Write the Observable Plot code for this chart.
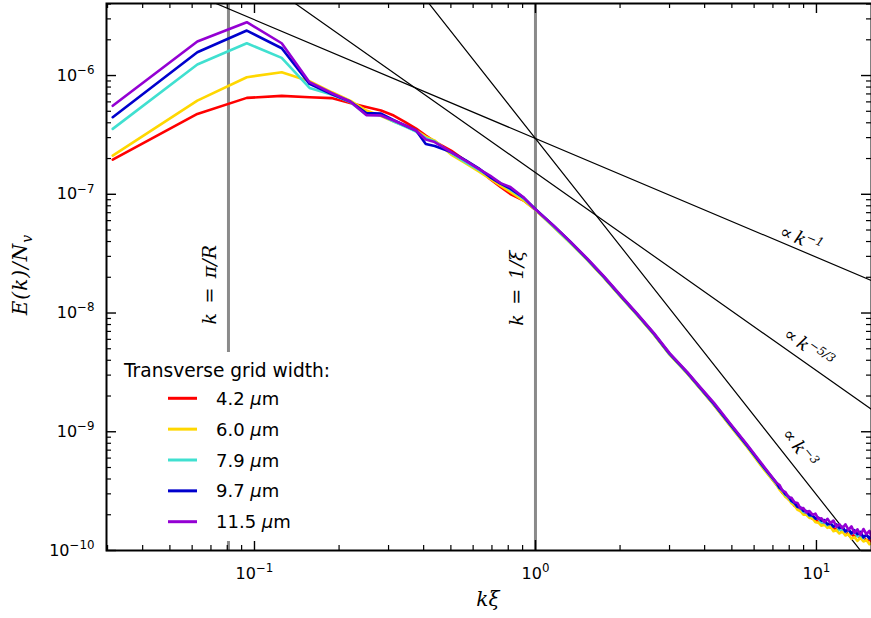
<!DOCTYPE html>
<html><head><meta charset="utf-8">
<script src="https://cdn.jsdelivr.net/npm/d3@7"></script>
<script src="https://cdn.jsdelivr.net/npm/@observablehq/plot@0.6"></script>
<style>html,body{margin:0;padding:0;background:#fff}#chart{position:relative;width:871px;height:618px}</style>
</head><body><div id="chart"></div>
<script>
// ---- data (k·ξ and log10 E(k)/N_v) ----
const kValues = [0.0313, 0.0626, 0.0939, 0.125, 0.157, 0.188, 0.219, 0.250, 0.282, 0.313, 0.344, 0.376, 0.407, 0.438, 0.501, 0.563, 0.626, 0.689, 0.751, 0.814, 0.908, 1.00,
  1.16, 1.33, 1.53, 1.75, 2.00, 2.30, 2.64, 3.00, 3.47, 3.76, 4.31, 4.94, 5.67, 6.49,
  7.206, 7.385, 7.568, 7.757, 7.950, 8.148, 8.350, 8.558, 8.770, 8.989, 9.212, 9.441, 9.677, 9.918, 10.165, 10.418, 10.677,
  10.943, 11.215, 11.494, 11.780, 12.073, 12.374, 12.681, 12.997, 13.321, 13.652, 13.992, 14.340, 14.697, 15.063, 15.437, 15.70];

const log10E_4_2 = [-6.708, -6.323, -6.188, -6.171, -6.183, -6.190, -6.232, -6.265, -6.295, -6.337, -6.392, -6.447, -6.505, -6.556, -6.632, -6.716, -6.788, -6.872, -6.939, -6.998, -7.053, -7.129,
  -7.268, -7.403, -7.550, -7.698, -7.853, -8.014, -8.178, -8.346, -8.506, -8.603, -8.772, -8.949, -9.126, -9.307,
  -9.446, -9.477, -9.515, -9.534, -9.568, -9.587, -9.623, -9.639, -9.668, -9.673, -9.699, -9.704, -9.732, -9.738, -9.762, -9.759, -9.780,
  -9.779, -9.807, -9.803, -9.828, -9.818, -9.842, -9.839, -9.869, -9.859, -9.885, -9.868, -9.895, -9.882, -9.917, -9.905, -9.927];
const log10E_6_0 = [-6.674, -6.211, -6.014, -5.972, -6.048, -6.139, -6.211, -6.295, -6.341, -6.388, -6.425, -6.463, -6.514, -6.548, -6.666, -6.737, -6.805, -6.868, -6.927, -6.981, -7.053, -7.133,
  -7.276, -7.411, -7.554, -7.702, -7.858, -8.018, -8.182, -8.351, -8.511, -8.607, -8.772, -8.953, -9.130, -9.315,
  -9.445, -9.488, -9.514, -9.549, -9.567, -9.601, -9.618, -9.657, -9.667, -9.699, -9.699, -9.725, -9.728, -9.762, -9.765, -9.792, -9.781,
  -9.809, -9.801, -9.837, -9.830, -9.857, -9.841, -9.874, -9.862, -9.901, -9.887, -9.919, -9.894, -9.924, -9.912, -9.947, -9.940];
const log10E_7_9 = [-6.449, -5.907, -5.728, -5.851, -6.104, -6.160, -6.223, -6.329, -6.333, -6.388, -6.430, -6.472, -6.527, -6.556, -6.653, -6.729, -6.792, -6.851, -6.906, -6.960, -7.036, -7.129,
  -7.272, -7.407, -7.550, -7.698, -7.853, -8.014, -8.178, -8.346, -8.506, -8.603, -8.768, -8.944, -9.121, -9.302,
  -9.438, -9.473, -9.497, -9.532, -9.554, -9.588, -9.602, -9.632, -9.643, -9.676, -9.680, -9.709, -9.707, -9.731, -9.732, -9.764, -9.763,
  -9.787, -9.773, -9.799, -9.791, -9.827, -9.818, -9.843, -9.826, -9.858, -9.844, -9.881, -9.866, -9.896, -9.869, -9.898, -9.883];
const log10E_9_7 = [-6.351, -5.804, -5.621, -5.770, -6.070, -6.156, -6.219, -6.316, -6.320, -6.375, -6.421, -6.463, -6.577, -6.594, -6.645, -6.712, -6.779, -6.855, -6.910, -6.952, -7.028, -7.125,
  -7.264, -7.399, -7.546, -7.693, -7.849, -8.009, -8.174, -8.342, -8.502, -8.599, -8.763, -8.940, -9.117, -9.298,
  -9.431, -9.472, -9.492, -9.526, -9.544, -9.583, -9.600, -9.633, -9.636, -9.667, -9.667, -9.702, -9.704, -9.732, -9.723, -9.749, -9.744,
  -9.780, -9.770, -9.800, -9.780, -9.811, -9.801, -9.840, -9.822, -9.856, -9.829, -9.863, -9.843, -9.889, -9.868, -9.898, -9.870];
const log10E_11_5 = [-6.255, -5.714, -5.551, -5.728, -6.056, -6.147, -6.219, -6.333, -6.337, -6.379, -6.421, -6.463, -6.539, -6.560, -6.645, -6.716, -6.784, -6.842, -6.906, -6.939, -7.028, -7.129,
  -7.264, -7.399, -7.542, -7.689, -7.845, -8.005, -8.169, -8.338, -8.498, -8.595, -8.755, -8.932, -9.109, -9.290,
  -9.429, -9.448, -9.495, -9.509, -9.551, -9.556, -9.594, -9.600, -9.645, -9.643, -9.680, -9.667, -9.698, -9.690, -9.735, -9.728, -9.761,
  -9.733, -9.768, -9.748, -9.800, -9.779, -9.813, -9.779, -9.826, -9.797, -9.853, -9.822, -9.869, -9.819, -9.863, -9.835, -9.885];

const gridWidths = ["4.2", "6.0", "7.9", "9.7", "11.5"];
const seriesColors = ["#ff0000", "#ffd700", "#40e0d0", "#0000cd", "#9400d3"];
const legendTitle = "Transverse grid width:";

const xMajorTicks = [0.1, 1, 10];
const yMajorTicks = [1e-10, 1e-9, 1e-8, 1e-7, 1e-6];
const xDomain = [0.02974, 15.70];
const yDomain = [1e-10, 4.043e-6];

const markerK = [0.0808, 1.0];               // k = π/R, k = 1/ξ
const markerLabels = ["k\u2002=\u2002π/R", "k\u2002=\u20021/ξ"];
const markerLabelE = [1.73e-8, 1.62e-8];

const guideExponents = [1, 5 / 3, 3];
const guideAmplitudes = [2.95e-7, 1.52e-7, 2.95e-7];
const guideLabels = ["∝\u2009k^−1", "∝\u2009k^−5/3", "∝\u2009k^−3"];
const guideLabelK = [8.81, 9.37, 8.70];
const guideLabelDy = [-11.5, -17, -25];
const guideLabelRotate = [23, 35, 52];

// ---- build tables ----
const logSeries = [log10E_4_2, log10E_6_0, log10E_7_9, log10E_9_7, log10E_11_5];
const rows = [];
gridWidths.forEach((w, i) => kValues.forEach((k, j) => rows.push({k, E: Math.pow(10, logSeries[i][j]), series: w})));

const guideRows = guideExponents.flatMap((p, i) => xDomain.map(k => ({k, E: guideAmplitudes[i] * Math.pow(k, -p), g: i})));
const guideLabelRows = guideExponents.map((p, i) => ({k: guideLabelK[i], E: guideAmplitudes[i] * Math.pow(guideLabelK[i], -p), text: guideLabels[i], rot: guideLabelRotate[i]}));
const markerRows = markerK.map((k, i) => ({k, E: markerLabelE[i], text: markerLabels[i]}));

const xMinor = [], yMinor = [];
for (let e = -2; e <= 1; e++) for (let m = 2; m <= 9; m++) { const v = +(m * Math.pow(10, e)).toPrecision(3); if (v >= xDomain[0] && v <= xDomain[1]) xMinor.push(v); }
for (let e = -10; e <= -6; e++) for (let m = 2; m <= 9; m++) { const v = +(m * Math.pow(10, e)).toPrecision(3); if (v >= yDomain[0] && v <= yDomain[1]) yMinor.push(v); }

const W = 871, H = 618, mL = 106, mR = 0, mT = 3, mB = 68;
const innerW = W - mL - mR, innerH = H - mT - mB;
const majorLen = 10, minorLen = 5;
const fmt = d => { const e = Math.round(Math.log10(d)); return "10^" + (e < 0 ? "−" + (-e) : String(e)); };

const serif = "'DejaVu Serif', 'Liberation Serif', serif";

const plot = Plot.plot({
  width: W, height: H,
  marginLeft: mL, marginRight: mR, marginTop: mT, marginBottom: mB,
  x: {type: "log", domain: xDomain},
  y: {type: "log", domain: yDomain},
  color: {domain: gridWidths, range: seriesColors},
  style: {background: "white", fontFamily: "'DejaVu Sans', sans-serif", fontSize: "16px", color: "black", overflow: "visible"},
  marks: [
    Plot.ruleX(markerK, {x: d => d, stroke: "#8a8a8a", strokeWidth: 3}),
    Plot.text(markerRows, {x: "k", y: "E", text: "text", rotate: -90, dx: -19, fontFamily: serif, fontStyle: "italic", fontSize: 19, fill: "black"}),
    Plot.line(guideRows, {x: "k", y: "E", z: "g", stroke: "black", strokeWidth: 1.2, clip: true}),
    Plot.text(guideLabelRows, {x: "k", y: "E", text: "text", rotate: "rot", fontFamily: serif, fontStyle: "italic", fontSize: 18, fill: "black", className: "guidelab"}),
    Plot.line(rows, {x: "k", y: "E", z: "series", stroke: "series", strokeWidth: 2.6, clip: true}),
    // ticks inward on all four sides
    Plot.tickX(xMajorTicks, {x: d => d, insetTop: innerH - majorLen, stroke: "black", strokeWidth: 1.4}),
    Plot.tickX(xMajorTicks, {x: d => d, insetBottom: innerH - majorLen, stroke: "black", strokeWidth: 1.4}),
    Plot.tickX(xMinor, {x: d => d, insetTop: innerH - minorLen, stroke: "black", strokeWidth: 1.2}),
    Plot.tickX(xMinor, {x: d => d, insetBottom: innerH - minorLen, stroke: "black", strokeWidth: 1.2}),
    Plot.tickY(yMajorTicks, {y: d => d, insetRight: innerW - majorLen, stroke: "black", strokeWidth: 1.4}),
    Plot.tickY(yMajorTicks, {y: d => d, insetLeft: innerW - majorLen, stroke: "black", strokeWidth: 1.4}),
    Plot.tickY(yMinor, {y: d => d, insetRight: innerW - minorLen, stroke: "black", strokeWidth: 1.2}),
    Plot.tickY(yMinor, {y: d => d, insetLeft: innerW - minorLen, stroke: "black", strokeWidth: 1.2}),
    Plot.axisX({ticks: xMajorTicks, tickSize: 0, tickPadding: 17, tickFormat: fmt, label: null, fontSize: 16}),
    Plot.axisY({ticks: yMajorTicks, tickSize: 0, tickPadding: 12, tickFormat: fmt, label: null, fontSize: 16}),
    Plot.frame({stroke: "black", strokeWidth: 2})
  ]
});

const svg = d3.select(plot);
// offset each guide label above its line
svg.selectAll(".guidelab text").each(function (d, i) {
  const t = d3.select(this);
  const tr = t.attr("transform") || "";
  t.attr("transform", `translate(0,${guideLabelDy[i]}) ` + tr);
});
// superscripts (10^−6, k^−1, ...)
svg.selectAll("text").each(function () {
  const t = d3.select(this);
  const s = t.text();
  if (!s.includes("^")) return;
  const [base, sup] = s.split("^");
  const fs = parseFloat(window.getComputedStyle(this).fontSize) || 16;
  t.text(null);
  t.append("tspan").text(base);
  t.append("tspan").attr("dy", -0.42 * fs).attr("font-size", 0.74 * fs).text(sup);
});

// axis titles
svg.append("text").attr("transform", `translate(27,${mT + innerH / 2 - 2}) rotate(-90)`)
  .attr("text-anchor", "middle").attr("font-family", serif).attr("font-style", "italic").attr("font-size", 20).attr("letter-spacing", 1)
  .call(t => { t.append("tspan").text("E(k)/N"); t.append("tspan").attr("dy", 5).attr("font-size", 14).text("v"); });
svg.append("text").attr("x", mL + innerW / 2 - 0.6).attr("y", 606).attr("text-anchor", "middle")
  .attr("font-family", serif).attr("font-style", "italic").attr("font-size", 20).text("kξ");

// legend (matplotlib-style, white background, no frame)
const lg = svg.append("g").attr("font-family", "'DejaVu Sans', sans-serif").attr("font-size", 18).attr("text-anchor", "start");
lg.append("rect").attr("x", 118).attr("y", 352).attr("width", 228).attr("height", 189).attr("fill", "white");
lg.append("text").attr("x", 124).attr("y", 377).attr("font-size", 18.6).text(legendTitle);
gridWidths.forEach((w, i) => {
  const y = 398.3 + i * 30.85;
  lg.append("line").attr("x1", 168).attr("x2", 197).attr("y1", y).attr("y2", y).attr("stroke", seriesColors[i]).attr("stroke-width", 3);
  const t = lg.append("text").attr("x", 216).attr("y", y + 6.5);
  t.append("tspan").text(w + " ");
  t.append("tspan").attr("font-style", "italic").text("μ");
  t.append("tspan").text("m");
});

document.getElementById("chart").appendChild(plot);
</script>
</body></html>
